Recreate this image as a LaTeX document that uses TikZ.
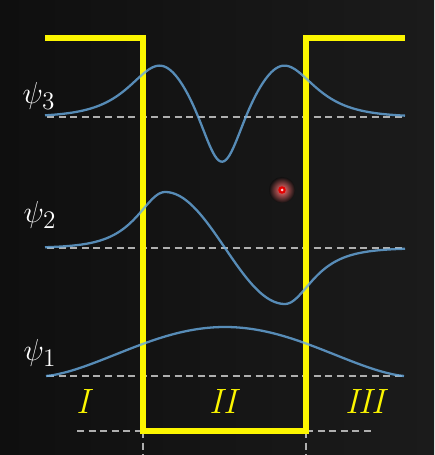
\documentclass[tikz,border=0pt]{standalone}
\usepackage{amsmath}
\definecolor{board}{RGB}{15,15,15}
\definecolor{boardlight}{RGB}{27,27,27}
\definecolor{wellyellow}{RGB}{252,246,0}
\definecolor{waveblue}{RGB}{104,170,224}
\definecolor{baseline}{RGB}{175,175,175}

\begin{document}
\begin{tikzpicture}[
  x=0.02cm, y=-0.02cm,
  declare function={
    hsec(\t)=1/cosh(\t);
    psione(\x)=376-49*abs(cos((\x-225)/2))^1.5;
    psitwo(\x)=248+(abs(\x-225)<=60 ? 56*sin(1.5*(\x-225)) : 56*(2*(\x>225)-1)*hsec((abs(\x-225)-60)/24));
    psithree(\x)=117-(52*(hsec((\x-283)/28)+hsec((\x-161)/28))-68*hsec((\x-222)/25)^2);
  },
  well/.style={draw=wellyellow, line width=3.4pt, line join=miter},
  wave/.style={draw=waveblue, line width=1.3pt, draw opacity=0.8, samples=200},
  level/.style={draw=baseline, line width=0.7pt, dash pattern=on 4pt off 2.6pt},
  psilabel/.style={text=white, font=\fontsize{19}{22}\selectfont},
  region/.style={text=wellyellow, font=\fontsize{20}{24}\selectfont\itshape}
]
% Background board
\shade[left color=board, right color=boardlight] (0,0) rectangle (434,455);
\useasboundingbox (0,0) rectangle (434,455);

% Corners of the well
\coordinate (tl) at (45,38);
\coordinate (wl) at (143,38);
\coordinate (bl) at (143,431);
\coordinate (br) at (306,431);
\coordinate (wr) at (306,38);
\coordinate (tr) at (405,38);

% Zero levels
\draw[level] (47,117) -- (403,117);
\draw[level] (47,248) -- (403,248);
\draw[level] (47,376) -- (403,376);
\draw[level] (77,431) -- (bl);
\draw[level] (br) -- (375,431);
\draw[level] (bl) -- (143,455);
\draw[level] (br) -- (306,455);

% Potential well
\draw[well] (tl) -- (wl) -- (bl) -- (br) -- (wr) -- (tr);

% Wave functions
\draw[wave, domain=45:405] plot (\x, {psithree(\x)});
\draw[wave, domain=45:405] plot (\x, {psitwo(\x)});
\draw[wave, domain=46:404] plot (\x, {psione(\x)});

% Labels
\node[psilabel] (psi3) at (39,96) {$\psi_3$};
\node[psilabel] (psi2) at (40,215) {$\psi_2$};
\node[psilabel] (psi1) at (40,353) {$\psi_1$};
\node[region] (reg1) at (83,401) {I};
\node[region] (reg2) at (223,401) {II};
\node[region] (reg3) at (365,401) {III};

% Pointer spot
\shade[inner color=red!55!white, outer color=board] (282,190) circle (13);
\fill[red!90!black] (282,190) circle (3.8);
\fill[red!20!white] (282,190) circle (1.5);
\end{tikzpicture}
\end{document}
